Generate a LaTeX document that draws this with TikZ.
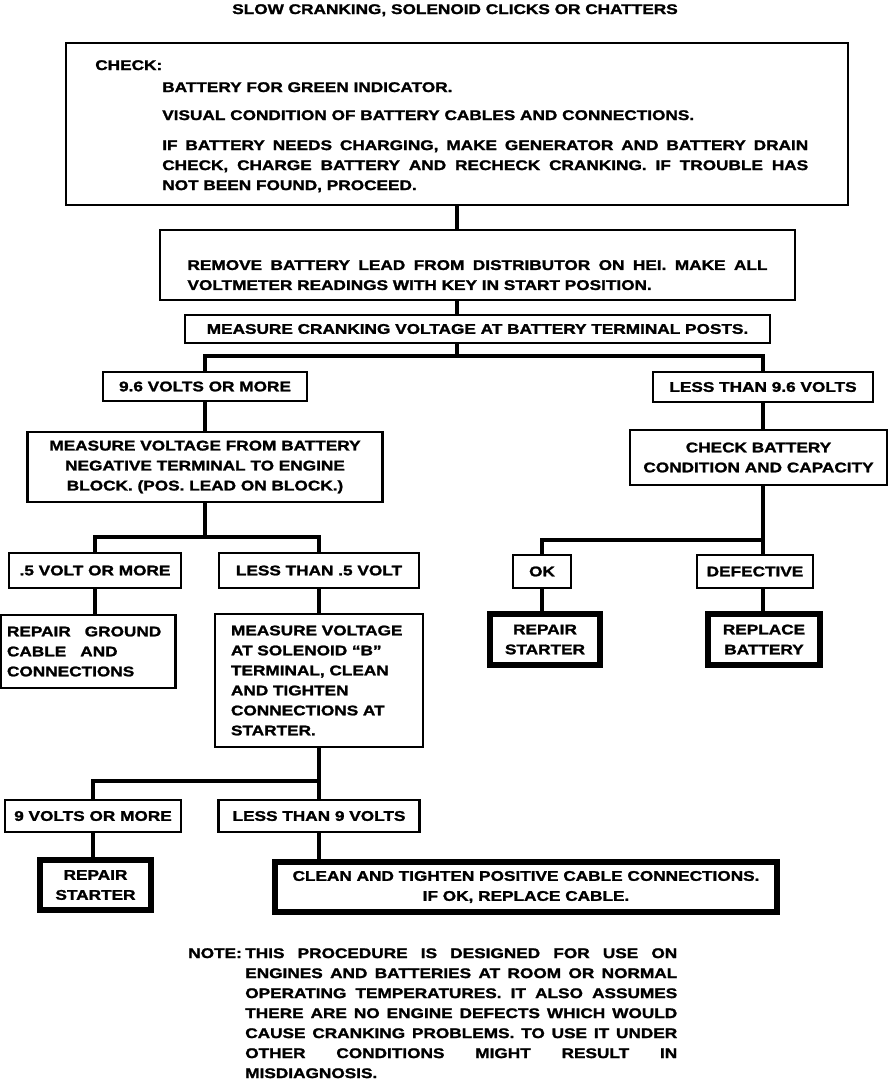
\documentclass[tikz,border=0pt]{standalone}
\usepackage{fontspec}
\newfontfamily\chartfont{Liberation Sans}[FakeStretch=1.23, BoldFeatures={FakeBold=1.6}]
\usetikzlibrary{calc}
\newdimen\pxu
\pxu=0.75pt
\tikzset{
  chart/.style={font=\chartfont\bfseries\fontsize{10.5}{15}\selectfont},
  box/.style={chart, draw, line width=2.2pt, inner sep=0pt, align=center},
  endbox/.style={box, line width=4.2pt},
  txt/.style={chart, inner sep=0pt, anchor=west, text height=7.5pt, text depth=0pt},
  link/.style={line width=3pt},
}

\begin{document}
\begin{tikzpicture}[x=0.75pt, y=-0.75pt]
  \useasboundingbox[fill=white] (0, 0) rectangle (896, 1082);
  \node[txt, anchor=center] at (455, 9) (title) {SLOW CRANKING, SOLENOID CLICKS OR CHATTERS};

  % first checks
  \node[box, minimum width=782\pxu, minimum height=162\pxu] at (457, 124) (check) {};
  \node[txt] at (95, 65) (checklbl) {CHECK:};
  \node[txt] at (162, 87) (green) {BATTERY FOR GREEN INDICATOR.};
  \node[txt] at (162, 115) (cables) {VISUAL CONDITION OF BATTERY CABLES AND CONNECTIONS.};
  \node[chart, inner sep=0pt, anchor=north west, text width=646\pxu, align=justify] at (162, 140) (charge)
    {IF BATTERY NEEDS CHARGING, MAKE GENERATOR AND BATTERY DRAIN\linebreak
     CHECK, CHARGE BATTERY AND RECHECK CRANKING. IF TROUBLE HAS\linebreak
     NOT BEEN FOUND, PROCEED.};

  \node[box, minimum width=635\pxu, minimum height=70\pxu, text width=580\pxu, align=justify] at (477.5, 265) (remove)
    {\rule{0pt}{22.5pt}REMOVE BATTERY LEAD FROM DISTRIBUTOR ON HEI. MAKE ALL\linebreak
     VOLTMETER READINGS WITH KEY IN START POSITION.};
  \node[box, minimum width=585\pxu, minimum height=28\pxu] at (477.5, 329) (measure)
    {MEASURE CRANKING VOLTAGE AT BATTERY TERMINAL POSTS.};
  \coordinate (fork1) at (457, 356);

  % 9.6 volts or more
  \node[box, minimum width=204\pxu, minimum height=29\pxu] at (205, 386.5) (hi96) {9.6 VOLTS OR MORE};
  \node[box, minimum width=355\pxu, minimum height=70\pxu] at (205, 467) (negblock)
    {MEASURE VOLTAGE FROM BATTERY\\NEGATIVE TERMINAL TO ENGINE\\BLOCK. (POS. LEAD ON BLOCK.)};
  \coordinate (fork2) at (205, 537);
  \node[box, minimum width=172\pxu, minimum height=35\pxu] at (95, 570.5) (more05) {.5 VOLT OR MORE};
  \node[box, minimum width=200\pxu, minimum height=35\pxu] at (319, 570.5) (less05) {LESS THAN .5 VOLT};
  \node[box, minimum width=175\pxu, minimum height=73\pxu, text width=162\pxu, align=left] at (88, 651.5) (ground)
    {REPAIR~~~GROUND\\CABLE~~~AND\\CONNECTIONS};
  \node[box, minimum width=208\pxu, minimum height=133\pxu, text width=176\pxu, align=left] at (319, 680.5) (solenoid)
    {MEASURE VOLTAGE\\AT SOLENOID \char"201C B\char"201D\\TERMINAL, CLEAN\\AND TIGHTEN\\CONNECTIONS AT\\STARTER.};
  \coordinate (fork3) at (319, 781);
  \node[box, minimum width=176\pxu, minimum height=32\pxu] at (93, 816) (more9) {9 VOLTS OR MORE};
  \node[box, minimum width=201\pxu, minimum height=32\pxu] at (319, 816) (less9) {LESS THAN 9 VOLTS};
  \node[endbox, minimum width=111\pxu, minimum height=50\pxu] at (95.5, 885) (rstart1) {REPAIR\\STARTER};
  \node[endbox, minimum width=502\pxu, minimum height=50\pxu] at (526, 887) (cleanpos)
    {CLEAN AND TIGHTEN POSITIVE CABLE CONNECTIONS.\\IF OK, REPLACE CABLE.};

  % less than 9.6 volts
  \node[box, minimum width=220\pxu, minimum height=30\pxu] at (763, 387) (lo96) {LESS THAN 9.6 VOLTS};
  \node[box, minimum width=257\pxu, minimum height=55\pxu] at (758.5, 457.5) (chkbat)
    {CHECK BATTERY\\CONDITION AND CAPACITY};
  \coordinate (fork4) at (763, 540);
  \node[box, minimum width=58\pxu, minimum height=33\pxu] at (542, 571.5) (ok) {OK};
  \node[box, minimum width=116\pxu, minimum height=33\pxu] at (755, 571.5) (defective) {DEFECTIVE};
  \node[endbox, minimum width=110\pxu, minimum height=51\pxu] at (545, 639.5) (rstart2) {REPAIR\\STARTER};
  \node[endbox, minimum width=112\pxu, minimum height=51\pxu] at (764, 639.5) (replbat) {REPLACE\\BATTERY};

  % note
  \node[txt] at (188, 953) (notelbl) {NOTE:};
  \node[chart, inner sep=0pt, anchor=north west, text width=432\pxu, align=justify] at (245, 948) (note)
    {THIS PROCEDURE IS DESIGNED FOR USE ON\linebreak
     ENGINES AND BATTERIES AT ROOM OR NORMAL\linebreak
     OPERATING TEMPERATURES. IT ALSO ASSUMES\linebreak
     THERE ARE NO ENGINE DEFECTS WHICH WOULD\linebreak
     CAUSE CRANKING PROBLEMS. TO USE IT UNDER\linebreak
     OTHER CONDITIONS MIGHT RESULT IN\linebreak
     MISDIAGNOSIS.};

  % connectors
  \draw[link] (fork1 |- check.south) -- (fork1 |- remove.north);
  \draw[link] (fork1 |- remove.south) -- (fork1 |- measure.north);
  \draw[link] (fork1 |- measure.south) -- (fork1);
  \draw[link] (hi96.north) |- (fork1) -| (lo96.north);
  \draw[link] (hi96.south) -- (negblock.north);
  \draw[link] (negblock.south) -- (fork2);
  \draw[link] (more05.north) |- (fork2) -| (less05.north);
  \draw[link] (more05.south) -- (more05.south |- ground.north);
  \draw[link] (less05.south) -- (solenoid.north);
  \draw[link] (solenoid.south) -- (fork3);
  \draw[link] (more9.north) |- (fork3) -| (less9.north);
  \draw[link] (more9.south) -- (more9.south |- rstart1.north);
  \draw[link] (less9.south) -- (less9.south |- cleanpos.north);
  \draw[link] (lo96.south) -- (lo96.south |- chkbat.north);
  \draw[link] (fork4 |- chkbat.south) -- (fork4);
  \draw[link] (ok.north) |- (fork4) -- (fork4 |- defective.north);
  \draw[link] (ok.south) -- (ok.south |- rstart2.north);
  \draw[link] (fork4 |- defective.south) -- (fork4 |- replbat.north);
\end{tikzpicture}
\end{document}
